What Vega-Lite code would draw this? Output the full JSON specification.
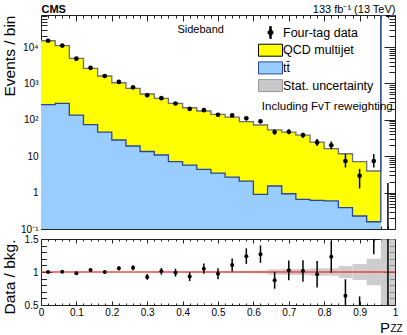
{
"$schema":"https://vega.github.io/schema/vega-lite/v6.json",
"background":"white",
"padding":{"left":1,"top":3,"right":0,"bottom":0},
"config":{
 "font":"Liberation Sans",
 "view":{"stroke":null},
 "axis":{"grid":false,"labelColor":"black","titleColor":"black","titleFontWeight":"normal","domainColor":"#222","domainWidth":1,"tickColor":"#222","tickWidth":1,"labelFlush":false,"labelOverlap":false,"zindex":1,"labelFont":"Liberation Sans","titleFont":"Liberation Sans"}
},
"datasets":{"bins":[
{"lo":0,"hi":0.04,"c":0.02,"tot":14900,"tt":263,"data":14900,"dlo":14778,"dhi":15022,"r":1.0,"rlo":0.992,"rhi":1.008,"ulo":0.996,"uhi":1.004},
{"lo":0.04,"hi":0.08,"c":0.06,"tot":10900,"tt":284,"data":10950,"dlo":10845,"dhi":11055,"r":1.005,"rlo":0.995,"rhi":1.015,"ulo":0.996,"uhi":1.004},
{"lo":0.08,"hi":0.12,"c":0.1,"tot":4900,"tt":135,"data":4800,"dlo":4731,"dhi":4869,"r":0.98,"rlo":0.966,"rhi":0.994,"ulo":0.996,"uhi":1.004},
{"lo":0.12,"hi":0.16,"c":0.14,"tot":2600,"tt":74,"data":2680,"dlo":2628,"dhi":2732,"r":1.03,"rlo":1.01,"rhi":1.05,"ulo":0.996,"uhi":1.004},
{"lo":0.16,"hi":0.2,"c":0.18,"tot":1600,"tt":46,"data":1600,"dlo":1560,"dhi":1640,"r":1.0,"rlo":0.975,"rhi":1.025,"ulo":0.995,"uhi":1.005},
{"lo":0.2,"hi":0.24,"c":0.22,"tot":1045,"tt":27.9,"data":1104,"dlo":1071,"dhi":1137,"r":1.056,"rlo":1.024,"rhi":1.088,"ulo":0.995,"uhi":1.005},
{"lo":0.24,"hi":0.28,"c":0.26,"tot":733,"tt":19.1,"data":781,"dlo":753,"dhi":809,"r":1.065,"rlo":1.027,"rhi":1.103,"ulo":0.995,"uhi":1.005},
{"lo":0.28,"hi":0.32,"c":0.3,"tot":512,"tt":13.5,"data":474,"dlo":452,"dhi":496,"r":0.925,"rlo":0.882,"rhi":0.968,"ulo":0.994,"uhi":1.006},
{"lo":0.32,"hi":0.36,"c":0.34,"tot":390,"tt":10.8,"data":394,"dlo":374,"dhi":414,"r":1.01,"rlo":0.959,"rhi":1.061,"ulo":0.993,"uhi":1.007},
{"lo":0.36,"hi":0.4,"c":0.38,"tot":284,"tt":7.06,"data":281,"dlo":264,"dhi":298,"r":0.99,"rlo":0.931,"rhi":1.049,"ulo":0.993,"uhi":1.007},
{"lo":0.4,"hi":0.44,"c":0.42,"tot":215,"tt":5.7,"data":200,"dlo":186,"dhi":214,"r":0.93,"rlo":0.864,"rhi":0.996,"ulo":0.992,"uhi":1.008},
{"lo":0.44,"hi":0.48,"c":0.46,"tot":175,"tt":4.37,"data":184,"dlo":170,"dhi":198,"r":1.05,"rlo":0.972,"rhi":1.128,"ulo":0.99,"uhi":1.01},
{"lo":0.48,"hi":0.52,"c":0.5,"tot":142,"tt":3.45,"data":138,"dlo":126,"dhi":150,"r":0.975,"rlo":0.892,"rhi":1.058,"ulo":0.99,"uhi":1.01},
{"lo":0.52,"hi":0.56,"c":0.54,"tot":119,"tt":2.68,"data":132,"dlo":120,"dhi":144,"r":1.106,"rlo":1.009,"rhi":1.203,"ulo":0.988,"uhi":1.012},
{"lo":0.56,"hi":0.6,"c":0.58,"tot":89,"tt":2.08,"data":110,"dlo":99.5,"dhi":120.5,"r":1.24,"rlo":1.122,"rhi":1.358,"ulo":0.985,"uhi":1.015},
{"lo":0.6,"hi":0.64,"c":0.62,"tot":72,"tt":0.9,"data":91,"dlo":81.5,"dhi":100.5,"r":1.27,"rlo":1.138,"rhi":1.402,"ulo":0.98,"uhi":1.02},
{"lo":0.64,"hi":0.68,"c":0.66,"tot":53,"tt":1.52,"data":46,"dlo":39.2,"dhi":53.8,"r":0.875,"rlo":0.747,"rhi":1.003,"ulo":0.96,"uhi":1.04},
{"lo":0.68,"hi":0.72,"c":0.7,"tot":46,"tt":0.93,"data":47,"dlo":40.1,"dhi":54.9,"r":1.025,"rlo":0.875,"rhi":1.175,"ulo":0.955,"uhi":1.045},
{"lo":0.72,"hi":0.76,"c":0.74,"tot":37.8,"tt":0.65,"data":38,"dlo":31.8,"dhi":44.2,"r":1.015,"rlo":0.852,"rhi":1.178,"ulo":0.955,"uhi":1.045},
{"lo":0.76,"hi":0.8,"c":0.78,"tot":24.4,"tt":0.61,"data":24,"dlo":19.1,"dhi":29.9,"r":0.965,"rlo":0.765,"rhi":1.165,"ulo":0.945,"uhi":1.055},
{"lo":0.8,"hi":0.84,"c":0.82,"tot":16.2,"tt":0.59,"data":20,"dlo":15.5,"dhi":25.5,"r":1.23,"rlo":0.99,"rhi":1.47,"ulo":0.945,"uhi":1.055},
{"lo":0.84,"hi":0.88,"c":0.86,"tot":11.7,"tt":0.385,"data":7.4,"dlo":4.9,"dhi":11.5,"r":0.64,"rlo":0.38,"rhi":0.89,"ulo":0.91,"uhi":1.09},
{"lo":0.88,"hi":0.92,"c":0.9,"tot":7.06,"tt":0.228,"data":2.9,"dlo":1.3,"dhi":4.5,"r":0.41,"rlo":0.17,"rhi":0.63,"ulo":0.88,"uhi":1.12},
{"lo":0.92,"hi":0.96,"c":0.94,"tot":3.92,"tt":0.158,"data":7.4,"dlo":4.9,"dhi":11.5,"r":1.89,"rlo":1.27,"rhi":2.9,"ulo":0.8,"uhi":1.2},
{"lo":0.96,"hi":1.0,"c":0.98,"tot":0,"tt":0,"data":0,"dlo":0.01,"dhi":1.84,"r":null,"rlo":0,"rhi":10,"ulo":0,"uhi":2}
]},
"spacing":0,
"vconcat":[
{
 "width":354,"height":214,
 "resolve":{"axis":{"x":"independent","y":"independent"}},
 "layer":[
  {"data":{"name":"bins"},"transform":[{"fold":["lo","hi"],"as":["edge","xe"]}],
   "mark":{"type":"area","fill":"#ffff00","clip":true},
   "encoding":{"x":{"field":"xe","type":"quantitative","scale":{"domain":[0,1],"nice":false,"zero":false},"axis":null},
     "y":{"field":"tot","type":"quantitative","stack":null,"scale":{"type":"log","domain":[0.1,76000],"nice":false},"axis":null}}},
  {"data":{"name":"bins"},"transform":[{"fold":["lo","hi"],"as":["edge","xe"]}],
   "mark":{"type":"line","stroke":"#707070","strokeWidth":1.3,"clip":true},
   "encoding":{"x":{"field":"xe","type":"quantitative","scale":{"domain":[0,1],"nice":false,"zero":false},
       "axis":{"orient":"top","labels":false,"ticks":false,"domain":false,"title":"CMS","titleFontWeight":"bold","titleFontSize":11,"titleAnchor":"start","titleAlign":"left","titleBaseline":"alphabetic","titlePadding":2.3,"minExtent":0,"maxExtent":0}},
     "y":{"field":"tot","type":"quantitative","scale":{"type":"log","domain":[0.1,76000],"nice":false},"axis":null}}},
  {"data":{"name":"bins"},"transform":[{"fold":["lo","hi"],"as":["edge","xe"]}],
   "mark":{"type":"area","fill":"#99ccff","clip":true},
   "encoding":{"x":{"field":"xe","type":"quantitative","scale":{"domain":[0,1],"nice":false,"zero":false},"axis":null},
     "y":{"field":"tt","type":"quantitative","stack":null,"scale":{"type":"log","domain":[0.1,76000],"nice":false},"axis":null}}},
  {"data":{"name":"bins"},"transform":[{"fold":["lo","hi"],"as":["edge","xe"]}],
   "mark":{"type":"line","stroke":"#29479a","strokeWidth":1.3,"clip":true},
   "encoding":{"x":{"field":"xe","type":"quantitative","scale":{"domain":[0,1],"nice":false,"zero":false},"axis":null},
     "y":{"field":"tt","type":"quantitative","scale":{"type":"log","domain":[0.1,76000],"nice":false},"axis":null}}},
  {"data":{"name":"bins"},
   "mark":{"type":"rule","color":"black","strokeWidth":1.5,"clip":true},
   "encoding":{"x":{"field":"c","type":"quantitative","scale":{"domain":[0,1],"nice":false,"zero":false},
       "axis":{"orient":"bottom","values":[0,0.02,0.04,0.06,0.08,0.1,0.12,0.14,0.16,0.18,0.2,0.22,0.24,0.26,0.28,0.3,0.32,0.34,0.36,0.38,0.4,0.42,0.44,0.46,0.48,0.5,0.52,0.54,0.56,0.58,0.6,0.62,0.64,0.66,0.68,0.7,0.72,0.74,0.76,0.78,0.8,0.82,0.84,0.86,0.88,0.9,0.92,0.94,0.96,0.98,1],
         "labels":false,"title":null,"domain":true,"minExtent":0,"maxExtent":0,
         "tickSize":{"condition":{"test":"abs(datum.value*10-round(datum.value*10))<0.001","value":-6},"value":-3}}},
     "y":{"field":"dlo","type":"quantitative","scale":{"type":"log","domain":[0.1,76000],"nice":false},
       "axis":{"orient":"left","values":[0.1,0.2,0.3,0.4,0.5,0.6,0.7,0.8,0.9,1,2,3,4,5,6,7,8,9,10,20,30,40,50,60,70,80,90,100,200,300,400,500,600,700,800,900,1000,2000,3000,4000,5000,6000,7000,8000,9000,10000,20000,30000,40000,50000,60000,70000],
         "labelExpr":"datum.value==0.1?'10⁻¹':datum.value==1?'1':datum.value==10?'10':datum.value==100?'10²':datum.value==1000?'10³':datum.value==10000?'10⁴':''",
         "labelFontSize":10,"labelPadding":14,"domain":true,
         "tickSize":{"condition":{"test":"abs(log(datum.value)/LN10-round(log(datum.value)/LN10))<0.001","value":-11},"value":-6},
         "title":"Events / bin","titleFontSize":15.5,"titleAnchor":"end","titleBaseline":"alphabetic","titlePadding":5,"minExtent":22,"maxExtent":22}},
     "y2":{"field":"dhi"}}},
  {"data":{"name":"bins"},
   "mark":{"type":"point","filled":true,"fill":"black","stroke":null,"size":22,"opacity":1,"clip":true},
   "encoding":{"x":{"field":"c","type":"quantitative","scale":{"domain":[0,1],"nice":false,"zero":false},
       "axis":{"orient":"top","values":[0,0.02,0.04,0.06,0.08,0.1,0.12,0.14,0.16,0.18,0.2,0.22,0.24,0.26,0.28,0.3,0.32,0.34,0.36,0.38,0.4,0.42,0.44,0.46,0.48,0.5,0.52,0.54,0.56,0.58,0.6,0.62,0.64,0.66,0.68,0.7,0.72,0.74,0.76,0.78,0.8,0.82,0.84,0.86,0.88,0.9,0.92,0.94,0.96,0.98,1],
         "labels":false,"domain":true,"minExtent":0,"maxExtent":0,
         "tickSize":{"condition":{"test":"abs(datum.value*10-round(datum.value*10))<0.001","value":-6},"value":-3},
         "title":"133 fb⁻¹ (13 TeV)","titleFontSize":11,"titleAnchor":"end","titleAlign":"right","titleBaseline":"alphabetic","titlePadding":2.3}},
     "y":{"field":"data","type":"quantitative","scale":{"type":"log","domain":[0.1,76000],"nice":false},
       "axis":{"orient":"right","values":[0.1,0.2,0.3,0.4,0.5,0.6,0.7,0.8,0.9,1,2,3,4,5,6,7,8,9,10,20,30,40,50,60,70,80,90,100,200,300,400,500,600,700,800,900,1000,2000,3000,4000,5000,6000,7000,8000,9000,10000,20000,30000,40000,50000,60000,70000],
         "labels":false,"title":null,"domain":true,"minExtent":0,"maxExtent":0,
         "tickSize":{"condition":{"test":"abs(log(datum.value)/LN10-round(log(datum.value)/LN10))<0.001","value":-11},"value":-6}}}}},
  {"data":{"values":[{"proc":"Four-tag data"},{"proc":"QCD multijet"},{"proc":"tt̄"},{"proc":"Stat. uncertainty"}]},
   "mark":{"type":"point","filled":true,"clip":true},
   "encoding":{"x":{"datum":0.5,"type":"quantitative","scale":{"domain":[0,1],"nice":false,"zero":false},"axis":null},
     "y":{"datum":0.001,"type":"quantitative","scale":{"type":"log","domain":[0.1,76000],"nice":false},"axis":null},
     "fill":{"field":"proc","type":"nominal","scale":{"domain":["Four-tag data","QCD multijet","tt̄","Stat. uncertainty"],"range":["black","#ffff00","#99ccff","#c8c8c8"]},
       "legend":{"orient":"none","legendX":223,"legendY":11,"title":null,"labelFontSize":12.5,"labelColor":"black","symbolSize":144,"symbolStrokeWidth":1,"symbolOpacity":1,"labelOffset":6,"rowPadding":0.7,"padding":0,"labelLimit":300}},
     "stroke":{"field":"proc","type":"nominal","scale":{"domain":["Four-tag data","QCD multijet","tt̄","Stat. uncertainty"],"range":["black","black","#29479a","#999999"]},
       "legend":{"orient":"none","legendX":223,"legendY":11,"title":null,"labelFontSize":12.5,"labelColor":"black","symbolSize":144,"symbolStrokeWidth":1,"symbolOpacity":1,"labelOffset":6,"rowPadding":0.7,"padding":0,"labelLimit":300}},
     "shape":{"field":"proc","type":"nominal","scale":{"domain":["Four-tag data","QCD multijet","tt̄","Stat. uncertainty"],"range":["M-0.12,-1H0.12V1H-0.12Z M0.42,0A0.42,0.42,0,1,1,-0.42,0A0.42,0.42,0,1,1,0.42,0Z","M-2,-1H2V1H-2Z","M-2,-1H2V1H-2Z","M-2,-1H2V1H-2Z"]},
       "legend":{"orient":"none","legendX":223,"legendY":11,"title":null,"labelFontSize":12.5,"labelColor":"black","symbolSize":144,"symbolStrokeWidth":1,"symbolOpacity":1,"labelOffset":6,"rowPadding":0.7,"padding":0,"labelLimit":300}}}},
  {"data":{"values":[{"t":"Sideband"}]},
   "mark":{"type":"text","fontSize":11,"align":"center","baseline":"middle","color":"black"},
   "encoding":{"x":{"datum":0.451,"type":"quantitative","scale":{"domain":[0,1],"nice":false,"zero":false},"axis":null},
     "y":{"datum":29300,"type":"quantitative","scale":{"type":"log","domain":[0.1,76000],"nice":false},"axis":null},
     "text":{"field":"t"}}},
  {"data":{"values":[{"t":"Including FvT reweighting"}]},
   "mark":{"type":"text","fontSize":11.5,"align":"right","baseline":"middle","color":"black"},
   "encoding":{"x":{"datum":0.9935,"type":"quantitative","scale":{"domain":[0,1],"nice":false,"zero":false},"axis":null},
     "y":{"datum":225,"type":"quantitative","scale":{"type":"log","domain":[0.1,76000],"nice":false},"axis":null},
     "text":{"field":"t"}}}
 ]
},
{
 "width":354,"height":66,
 "resolve":{"axis":{"x":"independent","y":"independent"}},
 "layer":[
  {"data":{"name":"bins"},
   "mark":{"type":"rect","fill":"#b8b8b8","opacity":0.7,"clip":true},
   "encoding":{"x":{"field":"lo","type":"quantitative","scale":{"domain":[0,1],"nice":false,"zero":false},"axis":null},
     "x2":{"field":"hi"},
     "y":{"field":"ulo","type":"quantitative","scale":{"domain":[0.5,1.5],"nice":false,"zero":false},"axis":null},
     "y2":{"field":"uhi"}}},
  {"data":{"values":[{}]},
   "mark":{"type":"rule","color":"#ff0000","strokeWidth":1},
   "encoding":{"y":{"datum":1,"type":"quantitative","scale":{"domain":[0.5,1.5],"nice":false,"zero":false},"axis":null}}},
  {"data":{"name":"bins"},
   "mark":{"type":"rule","color":"black","strokeWidth":1.5,"clip":true},
   "encoding":{"x":{"field":"c","type":"quantitative","scale":{"domain":[0,1],"nice":false,"zero":false},
       "axis":{"orient":"bottom","values":[0,0.02,0.04,0.06,0.08,0.1,0.12,0.14,0.16,0.18,0.2,0.22,0.24,0.26,0.28,0.3,0.32,0.34,0.36,0.38,0.4,0.42,0.44,0.46,0.48,0.5,0.52,0.54,0.56,0.58,0.6,0.62,0.64,0.66,0.68,0.7,0.72,0.74,0.76,0.78,0.8,0.82,0.84,0.86,0.88,0.9,0.92,0.94,0.96,0.98,1],
         "labelExpr":"abs(datum.value*10-round(datum.value*10))<0.001 ? format(datum.value,'~g') : ''",
         "labelFontSize":10,"labelPadding":6.5,"domain":true,
         "tickSize":{"condition":{"test":"abs(datum.value*10-round(datum.value*10))<0.001","value":-4},"value":-2},
         "title":"P","titleFontSize":15,"titleAlign":"right","titleX":348.5,"titleBaseline":"alphabetic","titlePadding":12,"minExtent":15,"maxExtent":15}},
     "y":{"field":"rlo","type":"quantitative","scale":{"domain":[0.5,1.5],"nice":false,"zero":false},
       "axis":{"orient":"left","values":[0.5,0.6,0.7,0.8,0.9,1,1.1,1.2,1.3,1.4,1.5],
         "labelExpr":"datum.value==0.5?'0.5':datum.value==1?'1':datum.value==1.5?'1.5':''",
         "labelFontSize":10,"labelPadding":14,"domain":true,
         "tickSize":{"condition":{"test":"abs(datum.value*2-round(datum.value*2))<0.001","value":-11},"value":-5.5},
         "title":"Data / bkg.","titleFontSize":15.5,"titleAnchor":"end","titleBaseline":"alphabetic","titlePadding":5,"minExtent":22,"maxExtent":22}},
     "y2":{"field":"rhi"}}},
  {"data":{"name":"bins"},
   "mark":{"type":"point","filled":true,"fill":"black","stroke":null,"size":16,"opacity":1,"clip":true},
   "encoding":{"x":{"field":"c","type":"quantitative","scale":{"domain":[0,1],"nice":false,"zero":false},
       "axis":{"orient":"top","values":[0,0.02,0.04,0.06,0.08,0.1,0.12,0.14,0.16,0.18,0.2,0.22,0.24,0.26,0.28,0.3,0.32,0.34,0.36,0.38,0.4,0.42,0.44,0.46,0.48,0.5,0.52,0.54,0.56,0.58,0.6,0.62,0.64,0.66,0.68,0.7,0.72,0.74,0.76,0.78,0.8,0.82,0.84,0.86,0.88,0.9,0.92,0.94,0.96,0.98,1],
         "labels":false,"title":null,"domain":true,"minExtent":0,"maxExtent":0,
         "tickSize":{"condition":{"test":"abs(datum.value*10-round(datum.value*10))<0.001","value":-4},"value":-2}}},
     "y":{"field":"r","type":"quantitative","scale":{"domain":[0.5,1.5],"nice":false,"zero":false},
       "axis":{"orient":"right","values":[0.5,0.6,0.7,0.8,0.9,1,1.1,1.2,1.3,1.4,1.5],
         "labels":false,"title":null,"domain":true,"minExtent":0,"maxExtent":0,
         "tickSize":{"condition":{"test":"abs(datum.value*2-round(datum.value*2))<0.001","value":-11},"value":-5.5}}}}},
  {"data":{"values":[{"t":"ZZ"}]},
   "mark":{"type":"text","fontSize":10,"align":"left","baseline":"alphabetic","color":"black"},
   "encoding":{"x":{"datum":0.987,"type":"quantitative","scale":{"domain":[0,1],"nice":false,"zero":false},"axis":null},
     "y":{"datum":0.09,"type":"quantitative","scale":{"domain":[0.5,1.5],"nice":false,"zero":false},"axis":null},
     "text":{"field":"t"}}}
 ]
}
]
}
